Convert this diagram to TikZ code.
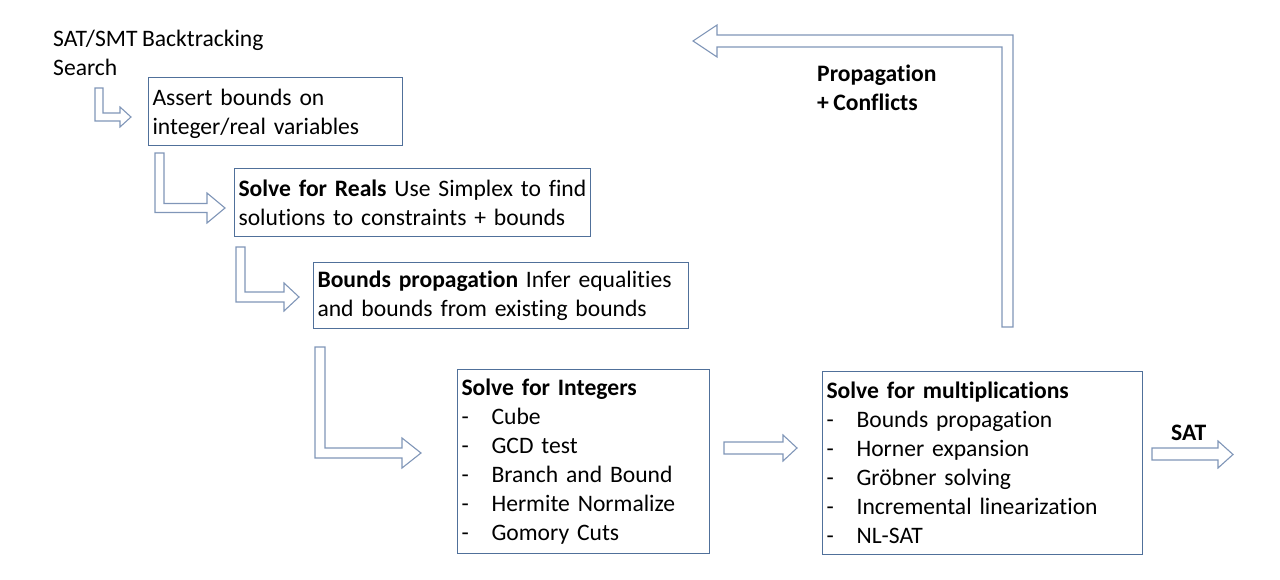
\documentclass[tikz,border=0pt]{standalone}
\usepackage{fontspec}
\setmainfont{Carlito}[Ligatures=NoCommon, WordSpace={0.85,0,0}]
\definecolor{arrowcol}{RGB}{128,150,184}
\definecolor{boxcol}{RGB}{80,112,154}
\newcommand{\itm}[1]{\makebox[30pt][l]{-}#1}
\newcommand{\twolines}[2]{\vtop{\hbox{\strut #1}\hbox{\strut #2}}}
\begin{document}
\begin{tikzpicture}[x=1pt,y=-1pt,
  every node/.style={font=\fontsize{23.6}{29}\selectfont},
  box/.style={draw=boxcol, line width=1.1pt, anchor=north west, inner xsep=4pt, inner ysep=0pt, align=left},
  blockarrow/.style={draw=arrowcol, line width=1.1pt, line join=miter, fill=white},
  lbl/.style={anchor=base west, inner sep=0pt}]
\useasboundingbox (0,0) rectangle (1280,580);

% boxes
\node[box, text width=246pt, minimum height=68pt] (b1) at (148,77)
  {\strut Assert bounds on\\integer/real variables};
\node[box, text width=348pt, minimum height=68pt] (b2) at (234,168)
  {\mbox{\textbf{Solve for Reals} Use Simplex to find}\\solutions to constraints + bounds};
\node[box, text width=367pt, minimum height=66pt] (b3) at (313,262)
  {\mbox{\textbf{Bounds propagation} Infer equalities}\\and bounds from existing bounds};
\node[box, text width=244pt, minimum height=184pt] (b4) at (457,369)
  {\textbf{Solve for Integers}\\\itm{Cube}\\\itm{GCD test}\\\itm{Branch and Bound}\\\itm{Hermite Normalize}\\\itm{Gomory Cuts}};
\node[box, text width=312pt, minimum height=183pt] (b5) at (822,371)
  {\textbf{Solve for multiplications}\\\itm{Bounds propagation}\\\itm{Horner expansion}\\\itm{Gröbner solving}\\\itm{Incremental linearization}\\\itm{NL-SAT}};

% free labels
\node[lbl] (search) at (53,47) {\twolines{SAT/SMT Backtracking}{Search}};
\node[lbl] (prop) at (817,82) {\twolines{\textbf{Propagation}}{\textbf{+ Conflicts}}};
\node[lbl] (sat) at (1171,440) {\textbf{SAT}};

% L-shaped block arrows
\draw[blockarrow] (95,88) -- (103,88) -- (103,113) -- (120,113) -- (120,107) -- (131,117) -- (120,127) -- (120,121) -- (95,121) -- cycle;
\draw[blockarrow] (155,153) -- (164,153) -- (164,203.5) -- (207,203.5) -- (207,193) -- (225,208) -- (207,223) -- (207,212.5) -- (155,212.5) -- cycle;
\draw[blockarrow] (236,247) -- (245,247) -- (245,292) -- (284,292) -- (284,283) -- (299,297) -- (284,311) -- (284,302) -- (236,302) -- cycle;
\draw[blockarrow] (315,347) -- (325,347) -- (325,448) -- (402,448) -- (402,438) -- (421,453) -- (402,468) -- (402,458) -- (315,458) -- cycle;
% straight arrows
\draw[blockarrow] (724,442) -- (783,442) -- (783,435) -- (797,448) -- (783,461) -- (783,454) -- (724,454) -- cycle;
\draw[blockarrow] (1152,448) -- (1218,448) -- (1218,441) -- (1233,454.5) -- (1218,468) -- (1218,460) -- (1152,460) -- cycle;
% feedback arrow
\draw[blockarrow] (1002,327) -- (1013,327) -- (1013,35) -- (717,35) -- (717,25) -- (693,41) -- (717,57) -- (717,47) -- (1002,47) -- cycle;
\end{tikzpicture}
\end{document}
